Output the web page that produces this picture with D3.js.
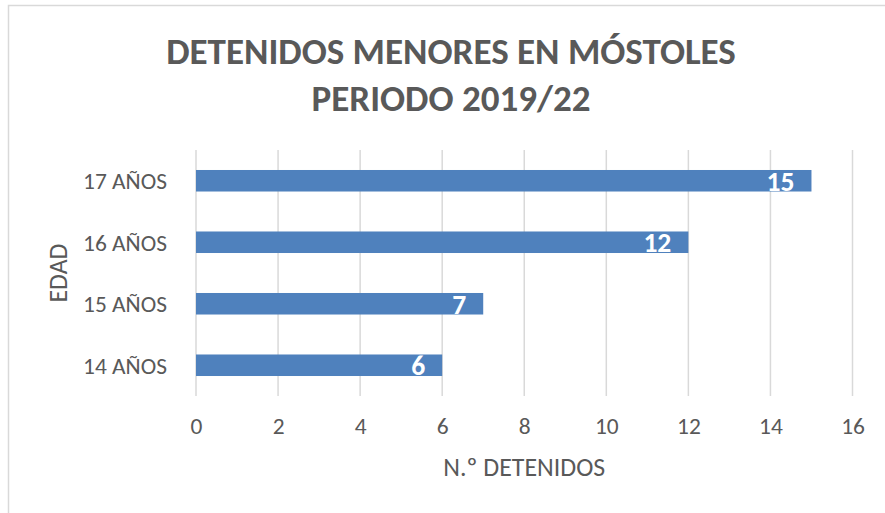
<!DOCTYPE html>
<html>
<head>
<meta charset="utf-8">
<script src="https://cdn.jsdelivr.net/npm/d3@7"></script>
<style>
    body { margin: 0; background: #fff; }
    svg { display: block; }
    text { font-family: Carlito, Calibri, Lato, sans-serif; }
</style>
</head>
<body>
<div id="chart"></div>
<script>
// data
const categories = ["17 AÑOS", "16 AÑOS", "15 AÑOS", "14 AÑOS"];
const values = [15, 12, 7, 6];
const xTicks = [0, 2, 4, 6, 8, 10, 12, 14, 16];
const titleLines = ["DETENIDOS MENORES EN MÓSTOLES", "PERIODO 2019/22"];

const width = 885, height = 513;
const margin = { top: 150, right: 32.5, bottom: 117, left: 196 };
const textColor = "#595959";
const barColor = "#4f81bd";
const gridColor = "#d9d9d9";

const svg = d3.select("#chart").append("svg")
    .attr("width", width)
    .attr("height", height);

// pick a font size so that one sample string gets the wanted width
function fitSize(str, target, weight) {
    const t = svg.append("text")
        .attr("font-size", 20)
        .attr("font-weight", weight || "normal")
        .text(str);
    const w = t.node().getComputedTextLength();
    t.remove();
    return w > 0 ? 20 * target / w : 20;
}

const titleSize = fitSize(titleLines[0], 570, "bold");
const catSize = fitSize(categories[0], 84);
const axisTitleSize = fitSize("N.º DETENIDOS", 162);
const labelSize = fitSize("15", 28, "bold");

// chart area border (cropped at right/bottom in the reference)
svg.append("rect")
    .attr("x", 8.5).attr("y", 5.5)
    .attr("width", width + 20).attr("height", height + 20)
    .attr("fill", "#fff")
    .attr("stroke", gridColor)
    .attr("stroke-width", 1.5);

const x = d3.scaleLinear()
    .domain([0, 16])
    .range([margin.left, width - margin.right]);

const y = d3.scaleBand()
    .domain(categories)
    .range([margin.top, height - margin.bottom])
    .paddingInner(0.65)
    .paddingOuter(0.325);

// title
svg.append("g")
    .selectAll("text")
    .data(titleLines)
    .join("text")
    .attr("x", 451)
    .attr("y", (d, i) => 64 + i * 47)
    .attr("text-anchor", "middle")
    .attr("font-size", titleSize)
    .attr("font-weight", "bold")
    .attr("fill", textColor)
    .text(d => d);

// vertical gridlines
svg.append("g")
    .selectAll("line")
    .data(xTicks)
    .join("line")
    .attr("x1", d => x(d)).attr("x2", d => x(d))
    .attr("y1", margin.top).attr("y2", height - margin.bottom)
    .attr("stroke", gridColor)
    .attr("stroke-width", 1.5);

// bars
svg.append("g")
    .selectAll("rect")
    .data(values)
    .join("rect")
    .attr("x", x(0))
    .attr("y", (d, i) => y(categories[i]))
    .attr("width", d => x(d) - x(0))
    .attr("height", y.bandwidth())
    .attr("fill", barColor);

// data labels, inside end
svg.append("g")
    .selectAll("text")
    .data(values)
    .join("text")
    .attr("x", d => x(d) - 17)
    .attr("y", (d, i) => y(categories[i]) + y.bandwidth() / 2)
    .attr("dy", "0.36em")
    .attr("text-anchor", "end")
    .attr("font-size", labelSize)
    .attr("font-weight", "bold")
    .attr("fill", "#fff")
    .text(d => d);

// x axis
const xAxis = svg.append("g")
    .attr("transform", `translate(0,${height - margin.bottom})`)
    .call(d3.axisBottom(x).tickValues(xTicks).tickSize(0).tickPadding(0))
    .attr("font-family", null)
    .attr("font-size", null);
xAxis.select(".domain").remove();
xAxis.selectAll("text")
    .attr("y", 30)
    .attr("dy", "0.36em")
    .attr("font-size", catSize)
    .attr("fill", textColor);

// y axis
const yAxis = svg.append("g")
    .attr("transform", `translate(${margin.left},0)`)
    .call(d3.axisLeft(y).tickSize(0).tickPadding(29))
    .attr("font-family", null)
    .attr("font-size", null);
yAxis.select(".domain").remove();
yAxis.selectAll("text")
    .attr("dy", "0.36em")
    .attr("font-size", catSize)
    .attr("fill", textColor);

// axis titles
svg.append("text")
    .attr("x", x(8))
    .attr("y", 467)
    .attr("dy", "0.36em")
    .attr("text-anchor", "middle")
    .attr("font-size", axisTitleSize)
    .attr("fill", textColor)
    .text("N.º DETENIDOS");

svg.append("text")
    .attr("transform", `translate(67,${(margin.top + height - margin.bottom) / 2}) rotate(-90)`)
    .attr("text-anchor", "middle")
    .attr("font-size", axisTitleSize)
    .attr("fill", textColor)
    .text("EDAD");
</script>
</body>
</html>
